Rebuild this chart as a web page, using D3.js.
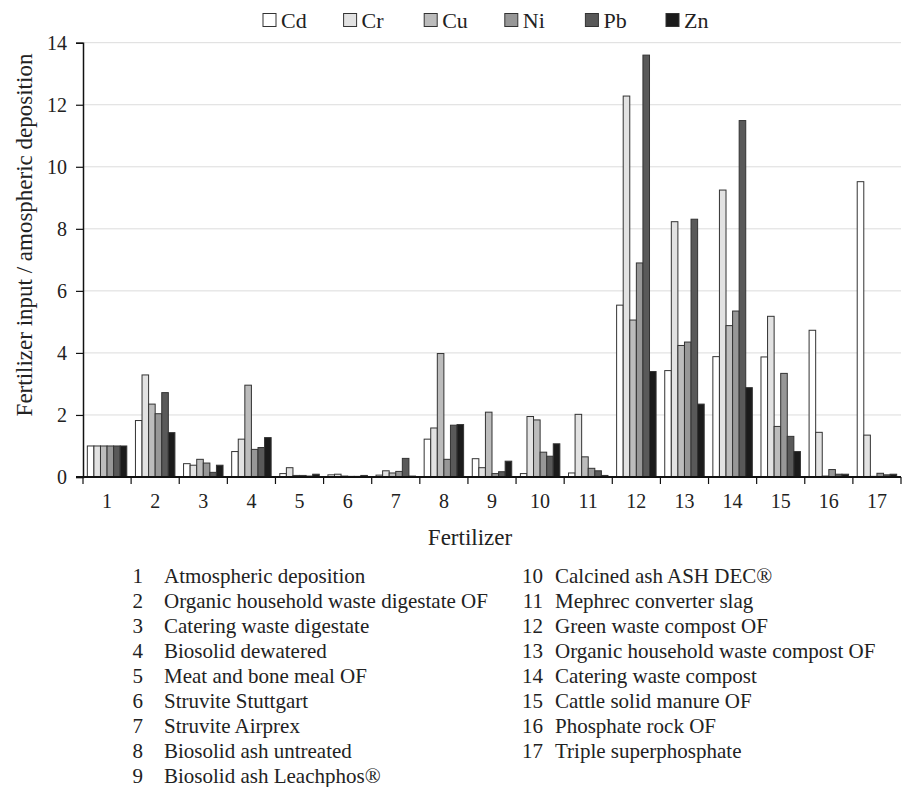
<!DOCTYPE html>
<html>
<head>
<meta charset="utf-8">
<script src="https://cdn.jsdelivr.net/npm/d3@7"></script>
<style>
  body { margin: 0; background: #fff; }
  svg text { font-family: "Liberation Serif", "Times New Roman", serif; fill: #222; }
</style>
</head>
<body>
<svg id="chart" width="904" height="787"></svg>
<script>
const categories = ["1","2","3","4","5","6","7","8","9","10","11","12","13","14","15","16","17"];
const metals = ["Cd", "Cr", "Cu", "Ni", "Pb", "Zn"];
const cdValues = [1.0, 1.82, 0.43, 0.82, 0.11, 0.07, 0.06, 1.22, 0.59, 0.11, 0.13, 5.54, 3.43, 3.88, 3.87, 4.73, 9.52];
const crValues = [1.0, 3.29, 0.38, 1.22, 0.30, 0.09, 0.20, 1.58, 0.30, 1.95, 2.02, 12.28, 8.23, 9.25, 5.18, 1.44, 1.35];
const cuValues = [1.0, 2.35, 0.57, 2.96, 0.05, 0.03, 0.13, 3.98, 2.09, 1.84, 0.65, 5.06, 4.24, 4.88, 1.63, 0.03, 0.02];
const niValues = [1.0, 2.04, 0.45, 0.89, 0.05, 0.02, 0.18, 0.57, 0.11, 0.80, 0.28, 6.90, 4.35, 5.35, 3.34, 0.24, 0.12];
const pbValues = [1.0, 2.72, 0.15, 0.95, 0.03, 0.02, 0.60, 1.67, 0.17, 0.67, 0.20, 13.60, 8.31, 11.49, 1.31, 0.09, 0.07];
const znValues = [1.0, 1.43, 0.38, 1.27, 0.09, 0.05, 0.03, 1.69, 0.51, 1.07, 0.05, 3.40, 2.35, 2.88, 0.82, 0.09, 0.09];
const yTicks = [0, 2, 4, 6, 8, 10, 12, 14];
const fertilizerNames = [
  "Atmospheric deposition",
  "Organic household waste digestate OF",
  "Catering waste digestate",
  "Biosolid dewatered",
  "Meat and bone meal OF",
  "Struvite Stuttgart",
  "Struvite Airprex",
  "Biosolid ash untreated",
  "Biosolid ash Leachphos®",
  "Calcined ash ASH DEC®",
  "Mephrec converter slag",
  "Green waste compost OF",
  "Organic household waste compost OF",
  "Catering waste compost",
  "Cattle solid manure OF",
  "Phosphate rock OF",
  "Triple superphosphate"
];

const seriesValues = [cdValues, crValues, cuValues, niValues, pbValues, znValues];
const metalColor = d3.scaleOrdinal()
  .domain(metals)
  .range(["#ffffff", "#e2e2e2", "#bcbcbc", "#979797", "#595959", "#1b1b1b"]);

const svg = d3.select("#chart");
const plotLeft = 83, plotRight = 901, plotTop = 42.7, plotBottom = 477;

//Scales
const x0 = d3.scaleBand()
  .domain(categories)
  .range([plotLeft, plotRight])
  .paddingInner(0.18)
  .paddingOuter(0.09);
const x1 = d3.scaleBand()
  .domain(metals)
  .range([0, x0.bandwidth()]);
const y = d3.scaleLinear().domain([0, 14]).range([plotBottom, plotTop]);

//Gridlines
svg.append("g")
  .selectAll("line")
  .data(yTicks.filter((t) => t > 0))
  .enter()
  .append("line")
  .attr("x1", plotLeft)
  .attr("x2", plotRight)
  .attr("y1", (d) => y(d))
  .attr("y2", (d) => y(d))
  .attr("stroke", "#dcdcdc")
  .attr("stroke-width", 1);

//Bars
const rows = categories.map((c, i) => ({
  category: c,
  values: metals.map((m, j) => ({ metal: m, value: seriesValues[j][i] }))
}));
const groups = svg.append("g")
  .selectAll("g")
  .data(rows)
  .enter()
  .append("g")
  .attr("transform", (d) => `translate(${x0(d.category)},0)`);
groups.selectAll("rect")
  .data((d) => d.values)
  .enter()
  .append("rect")
  .attr("x", (d) => x1(d.metal))
  .attr("y", (d) => y(d.value))
  .attr("width", x1.bandwidth())
  .attr("height", (d) => y(0) - y(d.value))
  .attr("fill", (d) => metalColor(d.metal))
  .attr("stroke", "#333")
  .attr("stroke-width", 1);

//Y axis
const yAxis = d3.axisLeft(y).tickValues(yTicks).tickSize(7).tickPadding(9);
const yAxisG = svg.append("g")
  .attr("transform", `translate(${plotLeft},0)`)
  .call(yAxis);
yAxisG.select(".domain").attr("stroke", "#111").attr("stroke-width", 1.5);
yAxisG.selectAll(".tick line").attr("stroke", "#111").attr("stroke-width", 1.2);
yAxisG.selectAll("text").attr("font-size", 20);

//X axis labels
const xAxis = d3.axisBottom(x0).tickSize(0).tickPadding(17);
const xAxisG = svg.append("g")
  .attr("transform", `translate(0,${plotBottom})`)
  .call(xAxis);
xAxisG.select(".domain").remove();
xAxisG.selectAll("text").attr("font-size", 20);

//X axis line and boundary ticks
const step = x0.step();
const boundaries = categories.map((c) => x0(c) - (step * x0.paddingInner()) / 2);
boundaries.push(plotRight);
svg.append("line")
  .attr("x1", plotLeft - 7)
  .attr("x2", plotRight)
  .attr("y1", plotBottom)
  .attr("y2", plotBottom)
  .attr("stroke", "#111")
  .attr("stroke-width", 2);
svg.append("g")
  .selectAll("line")
  .data(boundaries)
  .enter()
  .append("line")
  .attr("x1", (d) => d)
  .attr("x2", (d) => d)
  .attr("y1", plotBottom)
  .attr("y2", plotBottom + 7)
  .attr("stroke", "#111")
  .attr("stroke-width", 1.2);

//Axis titles
svg.append("text")
  .attr("x", 470)
  .attr("y", 537)
  .attr("text-anchor", "middle")
  .attr("dominant-baseline", "central")
  .attr("font-size", 23)
  .text("Fertilizer");
svg.append("text")
  .attr("transform", `translate(24,235) rotate(-90)`)
  .attr("text-anchor", "middle")
  .attr("dominant-baseline", "central")
  .attr("font-size", 23)
  .text("Fertilizer input / amospheric deposition");

//Legend
const legendX = d3.scalePoint().domain(metals).range([263, 666]);
const legendItems = svg.append("g")
  .selectAll("g")
  .data(metals)
  .enter()
  .append("g")
  .attr("transform", (d) => `translate(${legendX(d)},20)`);
legendItems.append("rect")
  .attr("x", 0)
  .attr("y", -6.5)
  .attr("width", 13)
  .attr("height", 13)
  .attr("fill", (d) => metalColor(d))
  .attr("stroke", "#333")
  .attr("stroke-width", 1);
legendItems.append("text")
  .attr("x", 18)
  .attr("y", 0)
  .attr("dominant-baseline", "central")
  .attr("font-size", 22)
  .text((d) => d);

//Fertilizer names list
const listGroup = svg.append("g");
fertilizerNames.forEach((name, i) => {
  const col = i < 9 ? 0 : 1;
  const row = col === 0 ? i : i - 9;
  const numRight = col === 0 ? 143 : 543;
  const textLeft = col === 0 ? 164 : 555;
  const cy = 576 + row * 25;
  listGroup.append("text")
    .attr("x", numRight)
    .attr("y", cy)
    .attr("text-anchor", "end")
    .attr("dominant-baseline", "central")
    .attr("font-size", 21)
    .text(categories[i]);
  listGroup.append("text")
    .attr("x", textLeft)
    .attr("y", cy)
    .attr("dominant-baseline", "central")
    .attr("font-size", 21)
    .text(name);
});
</script>
</body>
</html>
